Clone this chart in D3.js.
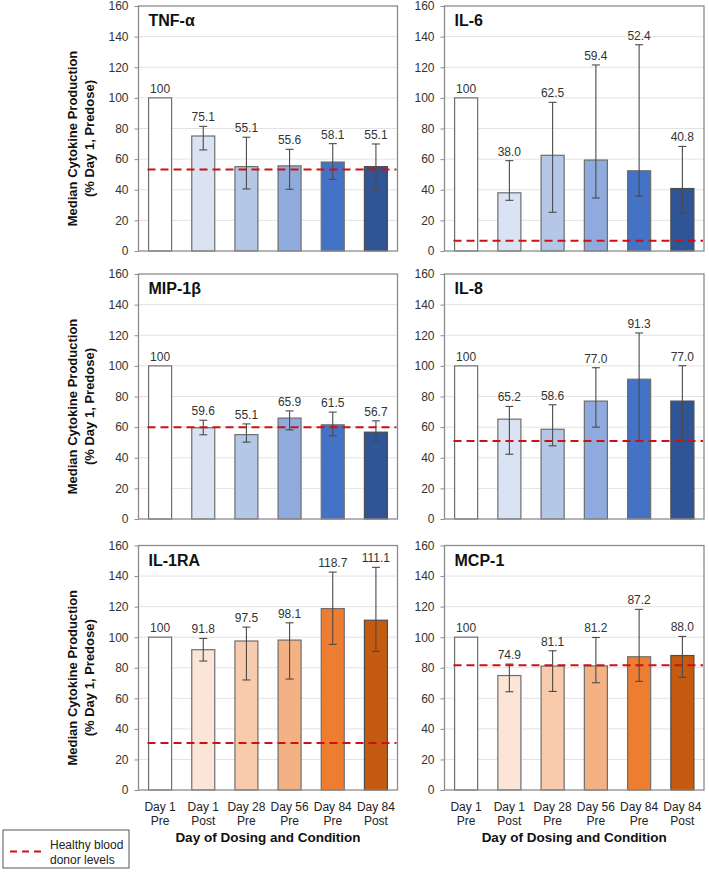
<!DOCTYPE html>
<html>
<head>
<meta charset="utf-8">
<script src="https://cdn.jsdelivr.net/npm/d3@7"></script>
<style>
  html, body { margin: 0; padding: 0; background: #fff; }
  svg { display: block; font-family: Arial, "Liberation Sans", sans-serif; }
</style>
</head>
<body>
<svg id="chart" width="709" height="874"></svg>
<script>
// ---------- data ----------
const catLine1 = ["Day 1", "Day 1", "Day 28", "Day 56", "Day 84", "Day 84"];
const catLine2 = ["Pre", "Post", "Pre", "Pre", "Pre", "Post"];
const categories = catLine1.map((d, i) => d + " " + catLine2[i]);

const cytokines = ["TNF-\u03b1", "IL-6", "MIP-1\u03b2", "IL-8", "IL-1RA", "MCP-1"];

const medians = [
  [100, 75.1, 55.1, 55.6, 58.1, 55.1],
  [100, 38.0, 62.5, 59.4, 52.4, 40.8],
  [100, 59.6, 55.1, 65.9, 61.5, 56.7],
  [100, 65.2, 58.6, 77.0, 91.3, 77.0],
  [100, 91.8, 97.5, 98.1, 118.7, 111.1],
  [100, 74.9, 81.1, 81.2, 87.2, 88.0]
];
const errLow = [
  [null, 66.0, 40.5, 40.3, 46.8, 39.7],
  [null, 33.1, 25.3, 34.6, 35.9, 24.6],
  [null, 55.0, 50.2, 58.2, 54.3, 50.6],
  [null, 42.3, 47.8, 60.0, 51.0, 51.0],
  [null, 84.4, 72.0, 72.6, 95.3, 90.7],
  [null, 64.3, 64.5, 70.2, 71.1, 73.7]
];
const errHigh = [
  [null, 81.4, 74.3, 66.4, 70.1, 69.9],
  [null, 59.0, 97.1, 121.5, 134.7, 68.3],
  [null, 64.5, 62.1, 70.6, 69.8, 64.1],
  [null, 73.5, 74.6, 98.8, 121.5, 100.1],
  [null, 99.2, 106.6, 109.4, 142.6, 145.7],
  [null, 82.4, 91.1, 99.8, 118.2, 100.5]
];
const healthyLevels = [53.3, 6.7, 60.0, 51.0, 30.7, 81.6];

const blueColors = ["#ffffff", "#dae3f3", "#b4c7e7", "#8faadc", "#4472c4", "#2f5597"];
const orangeColors = ["#ffffff", "#fbe5d6", "#f8cbad", "#f4b183", "#ed7d31", "#c55a11"];
const panelPalettes = [blueColors, blueColors, blueColors, blueColors, orangeColors, orangeColors];

const yTicks = [0, 20, 40, 60, 80, 100, 120, 140, 160];
const yLabelLines = ["Median Cytokine Production", "(% Day 1, Predose)"];
const xTitle = "Day of Dosing and Condition";
const legendLines = ["Healthy blood", "donor levels"];

// ---------- layout ----------
const colX = [[138.5, 397.5], [444.5, 704]];
const rowY = [[6, 251], [274, 519], [545.5, 790]];
const svg = d3.select("#chart");
const FONT = 'Arial, "Liberation Sans", sans-serif';

cytokines.forEach((name, p) => {
  const col = p % 2, row = Math.floor(p / 2);
  const [x0, x1] = colX[col];
  const [yTop, yBot] = rowY[row];
  const y = d3.scaleLinear().domain([0, 160]).range([yBot, yTop]);
  const x = d3.scaleBand().domain(categories).range([x0, x1])
    .paddingInner(0.467).paddingOuter(0.2335);
  const g = svg.append("g");

  // gridlines
  g.selectAll("line.grid").data(yTicks.filter(t => t > 0 && t < 160)).enter()
    .append("line").attr("class", "grid")
    .attr("x1", x0).attr("x2", x1)
    .attr("y1", d => y(d)).attr("y2", d => y(d))
    .attr("stroke", "#e3e3e3").attr("stroke-width", 1);

  // y axis
  const axis = g.append("g").attr("transform", `translate(${x0},0)`)
    .call(d3.axisLeft(y).tickValues(yTicks).tickSize(4).tickPadding(6));
  axis.select(".domain").remove();
  axis.selectAll(".tick line").attr("stroke", "#8c8c8c");
  axis.selectAll(".tick text").attr("font-size", 12).attr("fill", "#333")
    .attr("font-family", FONT);

  // bars
  const pal = panelPalettes[p];
  g.selectAll("rect.bar").data(medians[p]).enter().append("rect")
    .attr("class", "bar")
    .attr("x", (d, i) => x(categories[i]))
    .attr("width", x.bandwidth())
    .attr("y", d => y(d))
    .attr("height", d => y(0) - y(d))
    .attr("fill", (d, i) => pal[i])
    .attr("stroke", (d, i) => i === 5 ? "#4d4d4d" : "#6e6e6e")
    .attr("stroke-width", 1.2);

  // error bars
  const cap = 4;
  medians[p].forEach((v, i) => {
    if (errLow[p][i] == null) return;
    const cx = x(categories[i]) + x.bandwidth() / 2;
    const eg = g.append("g").attr("stroke", "#4a4a4a").attr("stroke-width", 1.1);
    eg.append("line").attr("x1", cx).attr("x2", cx)
      .attr("y1", y(errLow[p][i])).attr("y2", y(errHigh[p][i]));
    eg.append("line").attr("x1", cx - cap).attr("x2", cx + cap)
      .attr("y1", y(errLow[p][i])).attr("y2", y(errLow[p][i]));
    eg.append("line").attr("x1", cx - cap).attr("x2", cx + cap)
      .attr("y1", y(errHigh[p][i])).attr("y2", y(errHigh[p][i]));
  });

  // value labels
  g.selectAll("text.val").data(medians[p]).enter().append("text")
    .attr("class", "val")
    .attr("x", (d, i) => x(categories[i]) + x.bandwidth() / 2)
    .attr("y", (d, i) => y(Math.max(d, errHigh[p][i] == null ? d : errHigh[p][i])) - 5)
    .attr("text-anchor", "middle").attr("font-size", 12).attr("fill", "#333")
    .text(d => d === 100 ? "100" : d.toFixed(1));

  // healthy donor line
  g.append("line")
    .attr("x1", x0 + 9).attr("x2", x1 - 1)
    .attr("y1", y(healthyLevels[p])).attr("y2", y(healthyLevels[p]))
    .attr("stroke", "#d01010").attr("stroke-width", 2)
    .attr("stroke-dasharray", "8,5");

  // panel border
  g.append("rect").attr("x", x0).attr("y", yTop)
    .attr("width", x1 - x0).attr("height", yBot - yTop)
    .attr("fill", "none").attr("stroke", "#8c8c8c").attr("stroke-width", 1.3);

  // title
  g.append("text").attr("x", x0 + 10).attr("y", yTop + 20)
    .attr("font-size", 16).attr("font-weight", "bold").attr("fill", "#111")
    .text(name);

  // y axis label on left column
  if (col === 0) {
    const cy = (yTop + yBot) / 2 + 10;
    yLabelLines.forEach((line, k) => {
      g.append("text")
        .attr("transform", `translate(${77 + k * 17},${cy}) rotate(-90)`)
        .attr("text-anchor", "middle").attr("font-size", 13)
        .attr("font-weight", "bold").attr("fill", "#111")
        .text(line);
    });
  }

  // x labels on bottom row
  if (row === 2) {
    categories.forEach((c, i) => {
      const cx = x(c) + x.bandwidth() / 2;
      g.append("text").attr("x", cx).attr("y", yBot + 21)
        .attr("text-anchor", "middle").attr("font-size", 12).attr("fill", "#222")
        .text(catLine1[i]);
      g.append("text").attr("x", cx).attr("y", yBot + 35)
        .attr("text-anchor", "middle").attr("font-size", 12).attr("fill", "#222")
        .text(catLine2[i]);
    });
    g.append("text").attr("x", (x0 + x1) / 2).attr("y", yBot + 52)
      .attr("text-anchor", "middle").attr("font-size", 13.5)
      .attr("font-weight", "bold").attr("fill", "#111")
      .text(xTitle);
  }
});

// legend
const lg = svg.append("g");
lg.append("rect").attr("x", 3).attr("y", 830).attr("width", 126).attr("height", 38)
  .attr("fill", "#fff").attr("stroke", "#555").attr("stroke-width", 1);
lg.append("line").attr("x1", 10).attr("x2", 42).attr("y1", 851.5).attr("y2", 851.5)
  .attr("stroke", "#d01010").attr("stroke-width", 2).attr("stroke-dasharray", "7,5");
legendLines.forEach((t, k) => {
  lg.append("text").attr("x", 50).attr("y", 849 + k * 15)
    .attr("font-size", 12).attr("fill", "#222").text(t);
});
</script>
</body>
</html>
